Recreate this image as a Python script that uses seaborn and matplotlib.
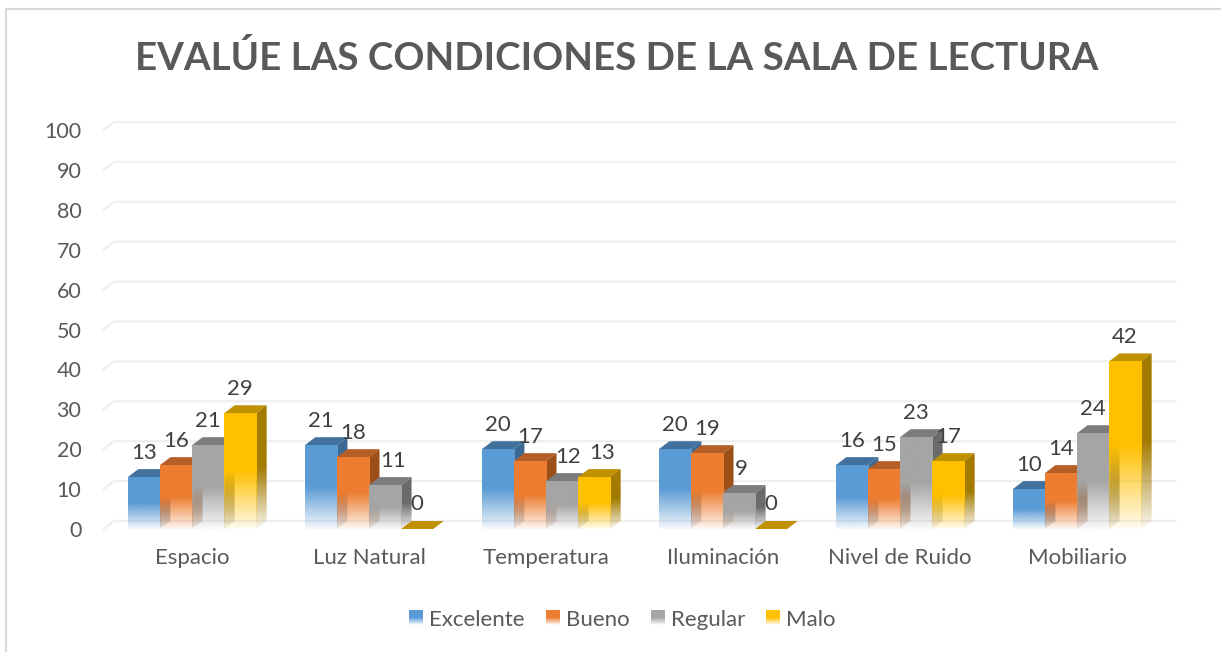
import numpy as np
import pandas as pd
import matplotlib
matplotlib.use('Agg')
import matplotlib.pyplot as plt
from matplotlib.patches import Polygon
from matplotlib.lines import Line2D
import seaborn as sns

categories = ['Espacio', 'Luz Natural', 'Temperatura', 'Iluminación', 'Nivel de Ruido', 'Mobiliario']
series = ['Excelente', 'Bueno', 'Regular', 'Malo']
excelente = [13, 21, 20, 20, 16, 10]
bueno = [16, 18, 17, 19, 15, 14]
regular = [21, 11, 12, 9, 23, 24]
malo = [29, 0, 13, 0, 17, 42]
y_ticks = [0, 10, 20, 30, 40, 50, 60, 70, 80, 90, 100]

front_colors = ['#5B9BD5', '#ED7D31', '#A5A5A5', '#FFC000']
top_colors = ['#41719C', '#B55E26', '#7C7C7C', '#BF9000']
side_colors = ['#3B6A94', '#9C5018', '#6B6B6B', '#A37B00']
text_color = '#595959'
label_color = '#404040'
W, H = 1221, 652

# Labels the original moved sideways to clear the neighbour bar: (serie, category) -> pixels
label_nudge = {(2, 1): 8, (2, 2): 6, (3, 2): 8, (2, 3): 2}

sns.set_theme(style='white')
plt.rcParams['font.family'] = ['Lato', 'DejaVu Sans']

# Long table for seaborn
hr = pd.DataFrame(dict(category=categories * 4,
                       serie=[s for s in series for _ in categories],
                       value=excelente + bueno + regular + malo))

fig = plt.figure(figsize=(W / 100, H / 100), dpi=100, facecolor='white')
ax = fig.add_axes([103.5 / W, (H - 529) / H, 1062 / W, 399 / H])

sns.barplot(data=hr, x='category', y='value', hue='serie', palette=front_colors,
            width=0.725, gap=0, saturation=1, ax=ax)


def fade(color, n=256):
    # vertical fill: solid on top half, nearly gone at the base
    rgba = np.tile(matplotlib.colors.to_rgba(color), (n, 1, 1))
    pos = np.linspace(1, 0, n)
    rgba[:, 0, 3] = np.clip(0.06 + 0.94 * pos / 0.5, 0, 1)
    return rgba


# 3D depth of the chart, in pixels converted to data units
depth_x = 10.5 / (1062 / 6)
depth_y = 8 / (399 / 100)

for i, container in enumerate(ax.containers):
    base = 3 + i * 3
    for j, bar in enumerate(container):
        x0, x1, h = bar.get_x(), bar.get_x() + bar.get_width(), bar.get_height()
        top = Polygon([(x0, h), (x1, h), (x1 + depth_x, h + depth_y), (x0 + depth_x, h + depth_y)],
                      closed=True, facecolor=top_colors[i], edgecolor='none', zorder=base)
        ax.add_patch(top)
        bar.set_facecolor('none')
        bar.set_edgecolor('none')
        ax.annotate(f'{h:.0f}', ((x0 + x1) / 2, h),
                    xytext=(label_nudge.get((i, j), 0) * 0.72, 24.5 * 0.72), textcoords='offset points',
                    ha='center', va='center', fontsize=16, color=label_color, zorder=30)
        if h == 0:
            continue
        side = Polygon([(x1, 0), (x1 + depth_x, depth_y), (x1 + depth_x, h + depth_y), (x1, h)],
                       closed=True, facecolor='none', edgecolor='none', zorder=base)
        ax.add_patch(side)
        im = ax.imshow(fade(side_colors[i]), extent=(x1, x1 + depth_x, 0, h + depth_y),
                       aspect='auto', zorder=base, interpolation='bilinear')
        im.set_clip_path(side)
        ax.imshow(fade(front_colors[i]), extent=(x0, x1, 0, h),
                  aspect='auto', zorder=base + 1, interpolation='bilinear')

# Back wall grid with its small slanted foot
for v in y_ticks:
    ax.add_line(Line2D([-0.5, -0.5 + depth_x, 5.5 + depth_x], [v, v + depth_y, v + depth_y],
                       color='#EFEFEF', lw=1.6, clip_on=False, zorder=1))

ax.set_xlim(-0.5, 5.5)
ax.set_ylim(0, 100)
ax.set_yticks(y_ticks)
ax.tick_params(axis='y', length=0, pad=16, labelsize=15.5, labelcolor=text_color)
ax.tick_params(axis='x', length=0, pad=14, labelsize=16, labelcolor=text_color)
ax.set_xlabel('')
ax.set_ylabel('')
sns.despine(ax=ax, left=True, bottom=True)
ax.patch.set_alpha(0)

fig.text(617 / W, 1 - 58.5 / H, 'EVALÚE LAS CONDICIONES DE LA SALA DE LECTURA', ha='center', va='center',
         fontsize=27.7, fontweight='bold', color=text_color)

legend = ax.legend(handles=ax.get_legend().legend_handles, labels=series, loc='center',
                   bbox_to_anchor=(622.5 / W, 1 - 619.5 / H), bbox_transform=fig.transFigure,
                   ncol=4, frameon=False, fontsize=16, handlelength=0.63, handleheight=0.63,
                   handletextpad=0.27, columnspacing=0.96, labelcolor=text_color)

# Outer chart frame, only top and left show in the crop
fig.add_artist(Line2D([6 / W, 6 / W, 1], [0, 1 - 9 / H, 1 - 9 / H], color='#D9D9D9', lw=1.5))

# Legend swatches share the fade of the bars
fig.canvas.draw()
for patch, color in zip(legend.get_patches(), front_colors):
    box = patch.get_window_extent()
    w, h = int(round(box.width)), int(round(box.height))
    swatch = np.tile(fade(color, h), (1, w, 1))
    patch.set_alpha(0)
    fig.figimage(swatch, xo=int(round(box.x0)), yo=int(round(box.y0)), origin='upper', zorder=5)

fig.savefig('out.png', dpi=100)
